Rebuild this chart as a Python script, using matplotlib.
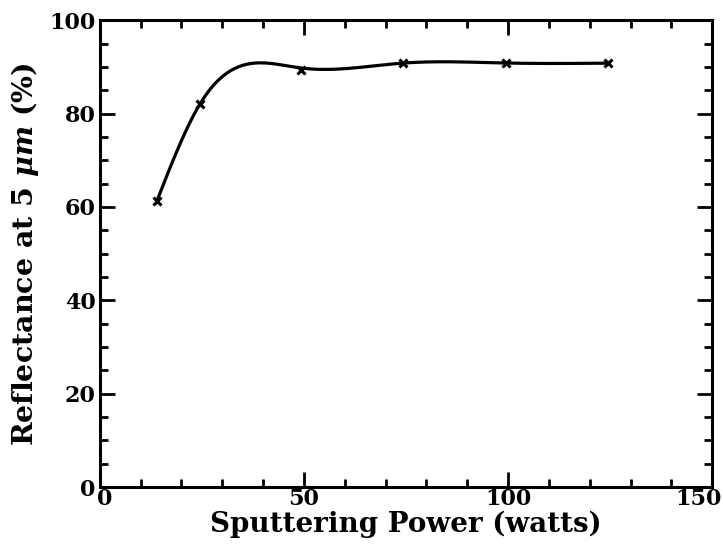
import numpy as np
import matplotlib
matplotlib.use("Agg")
import matplotlib.pyplot as plt
from matplotlib.ticker import MultipleLocator
from matplotlib.transforms import ScaledTranslation

power = [14, 24.5, 49.2, 74.2, 99.5, 124.5]
reflectance = [61.3, 82.0, 89.3, 90.9, 90.8, 90.8]
x_ticks = [0, 50, 100, 150]
y_ticks = [0, 20, 40, 60, 80, 100]


def smooth_curve(x, y, w, lam, step=0.1):
    """Penalised (smoothing-spline-like) fit evaluated on a fine grid."""
    x = np.asarray(x, float); y = np.asarray(y, float); w = np.asarray(w, float)
    grid = np.arange(x[0], x[-1] + step / 2, step)
    n = len(grid)
    W = np.zeros(n); z = np.zeros(n)
    for xi, yi, wi in zip(x, y, w):
        k = int(np.argmin(np.abs(grid - xi)))
        W[k] += wi; z[k] += wi * yi
    D = np.zeros((n - 2, n))
    idx = np.arange(n - 2)
    D[idx, idx] = 1; D[idx, idx + 1] = -2; D[idx, idx + 2] = 1
    D /= step ** 2
    A = np.diag(W) + lam * step * D.T @ D
    f = np.linalg.solve(A, z)
    return grid, f


plt.rcParams['font.family'] = ['DejaVu Serif']
plt.rcParams['font.weight'] = 'bold'
plt.rcParams['mathtext.fontset'] = 'custom'
plt.rcParams['mathtext.it'] = 'DejaVu Serif:italic:bold'
plt.rcParams['mathtext.rm'] = 'DejaVu Serif:bold'

fig = plt.figure(figsize=(7.23, 5.46), dpi=100)
ax = fig.add_axes([0.138, 0.108, 0.847, 0.855])

gx, gy = smooth_curve(power, reflectance, [1000, 1000, 3, 3, 3, 3], lam=170)
ax.plot(gx, gy, color='black', lw=2.3)
ax.plot(power, reflectance, linestyle='none', marker='x', color='black',
        markersize=6, markeredgewidth=2.2)

ax.set_xlim(0, 150)
ax.set_ylim(0, 100)
ax.set_xticks(x_ticks)
ax.set_yticks(y_ticks)
ax.xaxis.set_minor_locator(MultipleLocator(10))
ax.yaxis.set_minor_locator(MultipleLocator(5))
ax.tick_params(which='both', direction='in', top=True, right=True, width=2,
               labelsize=16)
ax.tick_params(axis='x', pad=1)
ax.tick_params(axis='y', pad=3)
ax.tick_params(which='major', length=11)
ax.tick_params(which='minor', length=6)
for s in ax.spines.values():
    s.set_linewidth(2.2)
for lab in ax.get_xticklabels() + ax.get_yticklabels():
    lab.set_fontweight('bold')
xl = ax.get_xticklabels()
xl[-1].set_transform(xl[-1].get_transform() + ScaledTranslation(-14 / 100, 0, fig.dpi_scale_trans))
xl[0].set_transform(xl[0].get_transform() + ScaledTranslation(5 / 100, 0, fig.dpi_scale_trans))

ax.set_xlabel('Sputtering Power (watts)', fontsize=20, fontweight='bold', labelpad=0)
ax.set_ylabel(r'Reflectance at 5 $\mu m$ (%)', fontsize=20.5, fontweight='bold', labelpad=6)

fig.savefig('out.png', dpi=100)
